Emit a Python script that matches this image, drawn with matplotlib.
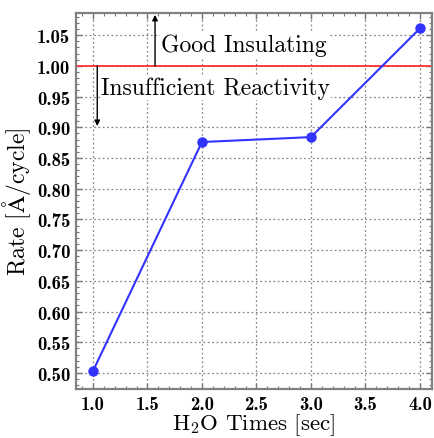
import matplotlib
matplotlib.use("Agg")
import matplotlib.pyplot as plt
from matplotlib.ticker import MultipleLocator, FormatStrFormatter

plt.rcParams['mathtext.fontset'] = 'cm'
plt.rcParams['font.family'] = ['cmr10', 'DejaVu Serif']
plt.rcParams['axes.formatter.use_mathtext'] = True

h2o_times = [1.0, 2.0, 3.0, 4.0]
rates = [0.503, 0.876, 0.884, 1.061]
threshold = 1.00
x_ticks = [1.0, 1.5, 2.0, 2.5, 3.0, 3.5, 4.0]
y_ticks = [0.50, 0.55, 0.60, 0.65, 0.70, 0.75, 0.80, 0.85, 0.90, 0.95, 1.00, 1.05]

fig = plt.figure(figsize=(4.35, 4.39), dpi=100)
ax = fig.add_axes([0.1747, 0.1116, 0.8183, 0.8565])

ax.axhline(threshold, color='#ff3030', lw=1.3, zorder=2)
ax.plot(h2o_times, rates, '-o', color='#3333ff', lw=1.5, ms=6.5, zorder=3)

ax.set_xlim(0.845, 4.11)
ax.set_ylim(0.474, 1.086)
ax.set_xticks(x_ticks)
ax.set_yticks(y_ticks)
ax.xaxis.set_major_formatter(FormatStrFormatter('%.1f'))
ax.yaxis.set_major_formatter(FormatStrFormatter('%.2f'))
ax.xaxis.set_minor_locator(MultipleLocator(0.1))
ax.yaxis.set_minor_locator(MultipleLocator(0.01))
ax.tick_params(which='both', direction='in', top=True, right=True, color='#777777')
ax.tick_params(which='major', length=4, width=1, pad=4)
ax.tick_params(which='minor', length=2.5, width=0.8)
for lab in ax.get_xticklabels() + ax.get_yticklabels():
    lab.set_fontfamily(['cmb10', 'DejaVu Serif'])
    lab.set_fontsize(13.5)
for s in ax.spines.values():
    s.set_color('#808080')
    s.set_linewidth(1.6)

ax.grid(True, which='major', color='#888888', linestyle=(0, (1.5, 2.0)), lw=0.9)
ax.set_axisbelow(True)

ax.set_xlabel(r'H$_2$O Times [sec]', fontsize=16.5, labelpad=-1)
ax.set_ylabel(r'Rate [$\mathrm{\AA}$/cycle]', fontsize=17, labelpad=3)

ax.annotate('', xy=(1.57, 1.083), xytext=(1.57, 1.0),
            arrowprops=dict(arrowstyle='-|>', color='black', lw=1.0, mutation_scale=8,
                            shrinkA=0, shrinkB=0))
ax.annotate('', xy=(1.04, 0.902), xytext=(1.04, 1.0),
            arrowprops=dict(arrowstyle='-|>', color='black', lw=1.0, mutation_scale=8,
                            shrinkA=0, shrinkB=0))
ax.text(1.625, 1.034, 'Good Insulating', fontsize=17, va='center', ha='left',
        bbox=dict(facecolor='white', edgecolor='none', pad=1.0), zorder=4)
ax.text(1.075, 0.965, 'Insufficient Reactivity', fontsize=17, va='center', ha='left',
        bbox=dict(facecolor='white', edgecolor='none', pad=1.0), zorder=4)

fig.savefig('out.png', dpi=100)
